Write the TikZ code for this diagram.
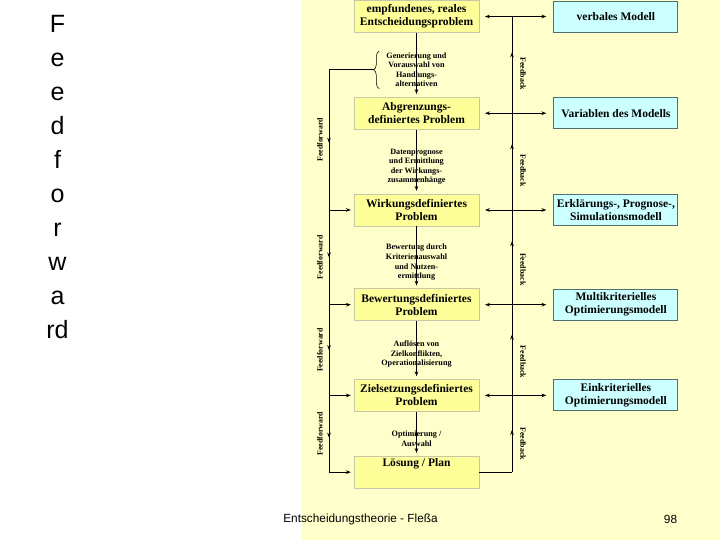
\documentclass[tikz,border=0pt]{standalone}
\usepackage{fontspec}
\setmainfont{Liberation Serif}
\newfontfamily\slidefont{Liberation Sans}
\usetikzlibrary{arrows.meta,positioning,calc,decorations.pathreplacing,decorations.markings}
\definecolor{slidebg}{HTML}{FFFFCC}
\definecolor{probfill}{HTML}{FFFF99}
\definecolor{probline}{HTML}{C8C8A8}
\definecolor{modelfill}{HTML}{CCFFFF}
\definecolor{modelline}{HTML}{4F6F6F}
\tikzset{
  probbox/.style={draw=probline, fill=probfill, line width=0.5pt, align=center,
    minimum width=3.125cm, minimum height=0.8cm, inner sep=1pt,
    font={\fontsize{8.2}{9.3}\selectfont\bfseries}},
  modelbox/.style={probbox, draw=modelline, fill=modelfill, line width=0.7pt,
    minimum width=3.1cm, minimum height=0.775cm},
  steplbl/.style={align=center, inner sep=1pt,
    font={\fontsize{5.8}{6.8}\selectfont\bfseries}},
  sidelbl/.style={inner sep=0pt, font={\fontsize{5.6}{6.6}\selectfont\bfseries}},
  titleword/.style={align=center, inner sep=0pt, anchor=north,
    font={\slidefont\fontsize{17.8}{24.2}\selectfont}},
  footlbl/.style={inner sep=0pt, font={\slidefont\fontsize{8.4}{10}\selectfont}},
  conn/.style={line width=0.6pt, draw=black},
  arr/.style={conn, -{Stealth[length=3.5pt, width=2.6pt]}, shorten >=2pt},
  biarr/.style={conn, {Stealth[length=3.5pt, width=2.6pt]}-{Stealth[length=3.5pt, width=2.6pt]},
    shorten <=4pt, shorten >=5pt},
  midarr/.style={postaction={decorate}, decoration={markings,
    mark=at position #1 with {\arrow{Stealth[length=3.5pt, width=2.6pt]}}}},
  bracedeco/.style={conn, line width=0.4pt, decorate, decoration={brace, amplitude=4pt}}
}
\begin{document}
\begin{tikzpicture}[x=0.025cm, y=-0.025cm, node distance=1.6cm]
  \useasboundingbox (0,0) rectangle (720,540);
  \fill[slidebg] (302,0) rectangle (720,540);

  % title down the left side
  \node[titleword] (ffword) at (57.5,15) {F\\e\\e\\d\\f\\o\\r\\w\\a\\rd};

  % problem chain
  \node[probbox] (prob) at (416.5,16.5) {empfundenes, reales\\Entscheidungsproblem};
  \node[probbox, below=of prob] (abgr) {Abgrenzungs-\\definiertes Problem};
  \node[probbox, below=of abgr] (wirk) {Wirkungsdefiniertes\\Problem};
  \node[probbox, below=1.55cm of wirk] (bew) {Bewertungsdefiniertes\\Problem};
  \node[probbox, below=1.45cm of bew] (ziel) {Zielsetzungsdefiniertes\\Problem};
  \node[probbox, below=1.1cm of ziel, text height=6.5pt, text depth=14.3pt] (loes) {Lösung / Plan};

  % models
  \node[modelbox, right=1.85cm of prob] (verb) {verbales Modell};
  \node[modelbox, right=1.85cm of abgr] (var) {Variablen des Modells};
  \node[modelbox, right=1.85cm of wirk] (erkl) {Erklärungs-, Prognose-,\\Simulationsmodell};
  \node[modelbox, right=1.85cm of bew] (multi) {Multikriterielles\\Optimierungsmodell};
  \node[modelbox, right=1.85cm of ziel] (ein) {Einkriterielles\\Optimierungsmodell};

  % steps between the problems
  \node[steplbl] (gen) at ($(prob.south)!0.5!(abgr.north)+(0,5)$) {Generierung und\\Vorauswahl von\\Handlungs-\\alternativen};
  \node[steplbl] (daten) at ($(abgr.south)!0.5!(wirk.north)+(0,5)$) {Datenprognose\\und Ermittlung\\der Wirkungs-\\zusammenhänge};
  \node[steplbl] (bewlbl) at ($(wirk.south)!0.5!(bew.north)+(0,5)$) {Bewertung durch\\Kriterienauswahl\\und Nutzen-\\ermittlung};
  \node[steplbl] (aufl) at ($(bew.south)!0.5!(ziel.north)+(0,4)$) {Auflösen von\\Zielkonflikten,\\Operationalisierung};
  \node[steplbl] (opt) at ($(ziel.south)!0.5!(loes.north)+(0,5)$) {Optimierung /\\Auswahl};

  \draw[arr] (prob) -- (abgr);
  \draw[arr] (abgr) -- (wirk);
  \draw[arr] (wirk) -- (bew);
  \draw[arr] (bew) -- (ziel);
  \draw[arr] (ziel) -- (loes);

  % feedforward
  \draw[bracedeco] ([xshift=-4pt]gen.south west) -- ([xshift=-4pt]gen.north west);
  \coordinate (brtip) at ([xshift=-8pt]gen.west);
  \coordinate (ffx) at (329,0);
  \coordinate (ff2) at (brtip -| ffx);
  \coordinate (ff3) at (wirk.west -| ffx);
  \coordinate (ff4) at (bew.west -| ffx);
  \coordinate (ff5) at (ziel.west -| ffx);
  \coordinate (ff6) at (loes.west -| ffx);
  \draw[conn] (brtip) -- (ff2);
  \draw[conn, midarr=0.52] (ff2) -- (ff3);
  \draw[conn, midarr=0.5] (ff3) -- (ff4);
  \draw[conn, midarr=0.5] (ff4) -- (ff5);
  \draw[conn, midarr=0.55] (ff5) -- (ff6);
  \draw[arr] (ff3) -- (wirk);
  \draw[arr] (ff4) -- (bew);
  \draw[arr] (ff5) -- (ziel);
  \draw[arr] (ff6) -- (loes);
  \node[sidelbl, rotate=90] (ffl1) at ($(ff2)!0.5!(ff3)+(-9,0)$) {Feedforward};
  \node[sidelbl, rotate=90] (ffl2) at ($(ff3)!0.5!(ff4)+(-9,0)$) {Feedforward};
  \node[sidelbl, rotate=90] (ffl3) at ($(ff4)!0.5!(ff5)+(-9,0)$) {Feedforward};
  \node[sidelbl, rotate=90] (ffl4) at ($(ff5)!0.5!(ff6)+(-9,0)$) {Feedforward};

  % feedback
  \coordinate (fbx) at (512,0);
  \coordinate (fb1) at (prob.east -| fbx);
  \coordinate (fb2) at (abgr.east -| fbx);
  \coordinate (fb3) at (wirk.east -| fbx);
  \coordinate (fb4) at (bew.east -| fbx);
  \coordinate (fb5) at (ziel.east -| fbx);
  \coordinate (fb6) at (loes.east -| fbx);
  \draw[conn] (loes.east) -- (fb6);
  \draw[conn, midarr=0.55] (fb6) -- (fb5);
  \draw[conn, midarr=0.67] (fb5) -- (fb4);
  \draw[conn, midarr=0.67] (fb4) -- (fb3);
  \draw[conn, midarr=0.68] (fb3) -- (fb2);
  \draw[conn, midarr=0.63] (fb2) -- (fb1);
  \draw[biarr] (prob.east) -- (verb.west);
  \draw[biarr] (abgr.east) -- (var.west);
  \draw[biarr] (wirk.east) -- (erkl.west);
  \draw[biarr] (bew.east) -- (multi.west);
  \draw[biarr] (ziel.east) -- (ein.west);
  \node[sidelbl, rotate=-90] (fbl1) at ($(fb1)!0.5!(fb2)+(11,9)$) {Feedback};
  \node[sidelbl, rotate=-90] (fbl2) at ($(fb2)!0.5!(fb3)+(11,9)$) {Feedback};
  \node[sidelbl, rotate=-90] (fbl3) at ($(fb3)!0.5!(fb4)+(11,12)$) {Feedback};
  \node[sidelbl, rotate=-90] (fbl4) at ($(fb4)!0.5!(fb5)+(11,12)$) {Feedback};
  \node[sidelbl, rotate=-90] (fbl5) at ($(fb5)!0.5!(fb6)+(11,10)$) {Feedback};

  % footer
  \node[footlbl] (foot) at (360.5,519) {Entscheidungstheorie - Fleßa};
  \node[footlbl] (page) at (670.5,519) {98};
\end{tikzpicture}
\end{document}
